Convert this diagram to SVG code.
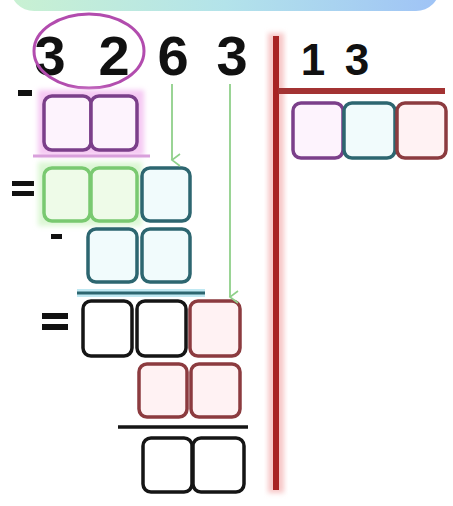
<svg xmlns="http://www.w3.org/2000/svg" width="453" height="506" viewBox="0 0 453 506">
<defs>
<linearGradient id="bannerGrad" x1="0" y1="0" x2="1" y2="0">
<stop offset="0" stop-color="#c9f1d2"/>
<stop offset="0.5" stop-color="#b3e3ea"/>
<stop offset="1" stop-color="#9fc3f6"/>
</linearGradient>
<marker id="arrowG" markerWidth="14" markerHeight="14" refX="7" refY="12" orient="auto" markerUnits="userSpaceOnUse" viewBox="0 0 14 14">
<path d="M1 4 L7 12 L13 4" fill="none" stroke="#8fd08a" stroke-width="1.6"/>
</marker>
<filter id="glow" x="-20%" y="-20%" width="140%" height="140%">
<feGaussianBlur stdDeviation="2.5"/>
</filter>
</defs>
<style>
.digit{font-family:"Liberation Sans",Arial,sans-serif;font-weight:bold;fill:#111;text-anchor:middle}
.box{rx:8;ry:8;stroke-width:3.5}
.purple{stroke:#7b3f8a;fill:#fdf3fd}
.green{stroke:#79c970;fill:#eefbe8}
.teal{stroke:#2d6670;fill:#f1fbfc}
.black{stroke:#151515;fill:#ffffff}
.red{stroke:#8c3b3f;fill:#fff2f3}
.conn{stroke:#8fd08a;stroke-width:1.8;fill:none}
.sign{fill:#111}
</style>
<rect width="453" height="506" fill="#ffffff"/>
<rect id="banner" x="10" y="-40" width="430" height="51" rx="24" fill="url(#bannerGrad)"/>

<g id="dividend">
<text class="digit" x="50" y="75" font-size="56">3</text>
<text class="digit" x="114" y="75" font-size="56">2</text>
<text class="digit" x="173" y="75" font-size="56">6</text>
<text class="digit" x="232" y="75" font-size="56">3</text>
<ellipse cx="89" cy="51" rx="55" ry="37" fill="none" stroke="#b24cae" stroke-width="3"/>
</g>

<g id="divisor">
<text class="digit" x="313" y="75" font-size="44">1</text>
<text class="digit" x="357" y="75" font-size="44">3</text>
</g>

<g id="division-bar">
<rect x="268" y="33" width="16" height="460" fill="#f7c8c8" filter="url(#glow)"/>
<line x1="276" y1="36" x2="276" y2="490" stroke="#a82424" stroke-width="6"/>
<line x1="278" y1="91" x2="445" y2="91" stroke="#a33333" stroke-width="6"/>
</g>

<g id="quotient">
<rect class="box purple" x="293" y="103" width="50" height="55"/>
<rect class="box teal" x="344" y="103" width="51" height="55"/>
<rect class="box red" x="397" y="103" width="49" height="55"/>
</g>

<g id="row1">
<rect x="18" y="90" width="14" height="6" class="sign"/>
<rect x="38" y="90" width="106" height="66" fill="#f5c9f3" filter="url(#glow)"/>
<rect class="box purple" x="44" y="96" width="47" height="54"/>
<rect class="box purple" x="91" y="96" width="46" height="54"/>
<line x1="33" y1="156" x2="150" y2="156" stroke="#d9a0dc" stroke-width="3"/>
</g>

<g id="row2">
<rect x="12" y="181" width="22" height="5" class="sign"/>
<rect x="12" y="191" width="22" height="5" class="sign"/>
<rect x="38" y="162" width="104" height="64" fill="#dcf7d4" filter="url(#glow)"/>
<rect class="box green" x="44" y="168" width="46" height="53"/>
<rect class="box green" x="91" y="168" width="46" height="53"/>
<rect class="box teal" x="142" y="168" width="48" height="53"/>
</g>

<g id="row3">
<rect x="51" y="234" width="11" height="5" class="sign"/>
<rect class="box teal" x="88" y="229" width="49" height="53"/>
<rect class="box teal" x="142" y="229" width="48" height="53"/>
<line x1="77" y1="293" x2="205" y2="293" stroke="#bfe8f2" stroke-width="8"/>
<line x1="77" y1="293" x2="205" y2="293" stroke="#2d6670" stroke-width="3"/>
</g>

<g id="row4">
<rect x="42" y="313" width="26" height="6" class="sign"/>
<rect x="42" y="324" width="26" height="6" class="sign"/>
<rect class="box black" x="83" y="301" width="49" height="55"/>
<rect class="box black" x="137" y="301" width="49" height="55"/>
<rect class="box red" x="190" y="301" width="50" height="55"/>
</g>

<g id="row5">
<rect class="box red" x="139" y="364" width="48" height="53"/>
<rect class="box red" x="191" y="364" width="49" height="53"/>
<line x1="118" y1="427" x2="248" y2="427" stroke="#151515" stroke-width="3.5"/>
</g>

<g id="row6">
<rect class="box black" x="143" y="438" width="49" height="54"/>
<rect class="box black" x="193" y="438" width="51" height="54"/>
</g>

<g id="connectors">
<line class="conn" x1="172" y1="84" x2="172" y2="160" marker-end="url(#arrowG)"/>
<line class="conn" x1="230" y1="84" x2="230" y2="297" marker-end="url(#arrowG)"/>
</g>
</svg>
